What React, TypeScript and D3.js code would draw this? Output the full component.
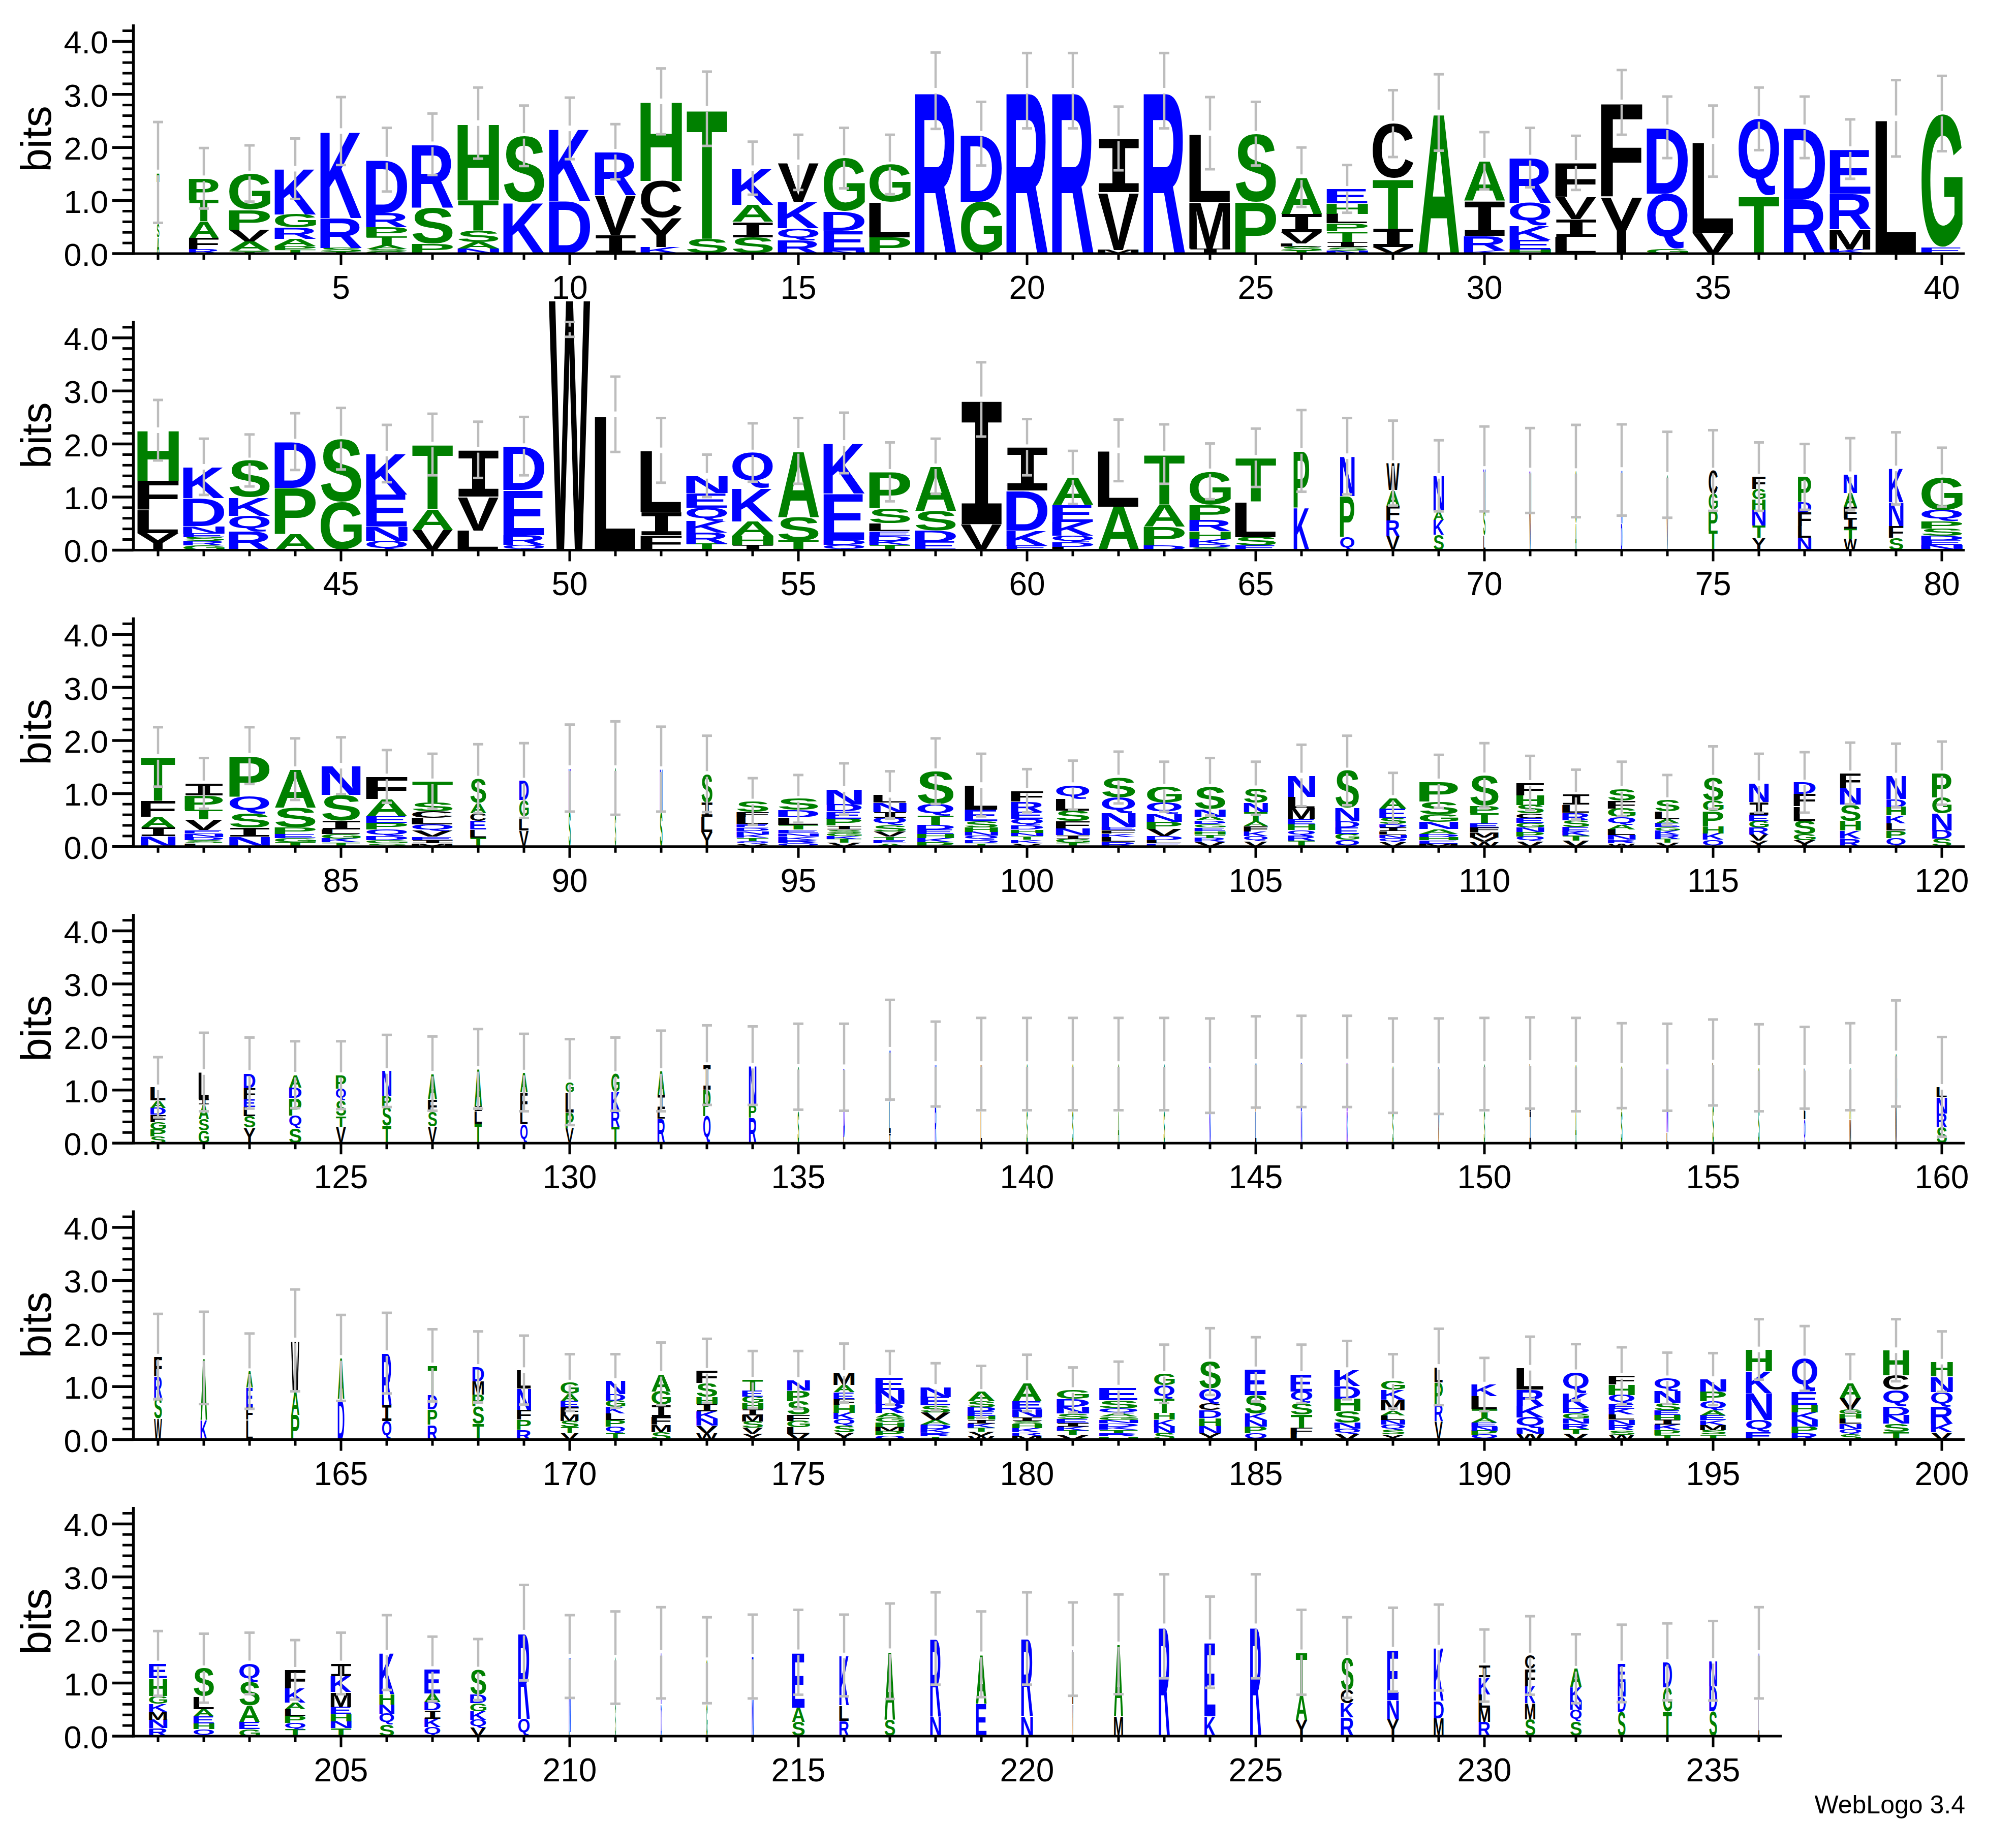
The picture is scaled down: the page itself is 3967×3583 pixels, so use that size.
import React, { useMemo } from 'react';
import * as d3 from 'd3';

const W = 3967;
const H = 3583;
const rowStarts = [1, 41, 81, 121, 161, 201];
const rowCounts = [40, 40, 40, 40, 40, 36];
const yTickValues = [0, 1, 2, 3, 4];
const yTickLabels = ['0.0', '1.0', '2.0', '3.0', '4.0'];
const yMinorValues = [0.2, 0.4, 0.6, 0.8, 1.2, 1.4, 1.6, 1.8, 2.2, 2.4, 2.6, 2.8, 3.2, 3.4, 3.6, 3.8, 4.2];
const yMax = 4.32;

// stacks: letters listed bottom -> top, each with its height in bits
const row1Stacks = [
  'A0.3 S0.25 T0.98', 'R0.09 F0.21 A0.31 T0.41 P0.40', 'T0.03 S0.03 A0.17 V0.22 P0.38 G0.68',
  'T0.07 P0.07 A0.14 R0.21 G0.25 K0.86', 'T0.04 S0.07 R0.56 K1.64', 'G0.04 S0.05 A0.07 T0.16 P0.18 R0.27 D1.0',
  'P0.19 S0.67 R1.2', 'N0.1 A0.12 S0.22 T0.58 H1.44', 'K0.96 S1.26', 'D1.0 K1.36', 'I0.35 V0.75 R0.82',
  'K0.12 Y0.55 C0.7 H1.5', 'S0.28 T2.45', 'S0.31 I0.29 A0.32 K0.69', 'R0.25 Q0.23 K0.5 V0.74',
  'N0.06 E0.37 D0.36 G1.01', 'P0.31 L0.66 G0.71', 'R3.07', 'G0.98 D1.28', 'R3.07', 'R3.07',
  'M0.07 V1.09 I1.01', 'R3.07', 'I0.1 M0.88 L1.29', 'P0.97 S1.29', 'T0.06 S0.07 L0.06 V0.21 I0.35 A0.69',
  'N0.06 S0.06 I0.1 T0.2 P0.15 L0.18 H0.2 E0.27', 'V0.12 I0.35 T0.94 C1.04', 'A2.66',
  'K0.06 R0.28 I0.66 A0.75', 'H0.08 E0.18 K0.26 Q0.44 R0.85', 'L0.32 I0.33 V0.42 F0.64', 'Y1.08 F1.77',
  'G0.09 Q1.04 D1.25', 'V0.39 L1.73', 'T1.09 Q1.45', 'R1.02 D1.36', 'K0.08 M0.38 R0.67 E0.84', 'L2.55',
  'E0.11 G2.53',
];
const row1Widths = [0.06, 0.72, 1, 1, 1, 1, 1, 1, 1, 1, 1, 1, 1, 1, 1, 1, 1, 1, 1, 1, 1, 1, 1, 1, 1, 1, 1, 1, 1, 1, 1, 1, 1, 1, 1, 1, 1, 1, 1, 1];
const row1ErrTop = [2.48, 1.99, 2.04, 2.17, 2.95, 2.37, 2.64, 3.13, 2.79, 2.94, 2.44, 3.49, 3.43, 2.11, 2.24, 2.37, 2.24, 3.79, 2.86, 3.78, 3.78, 2.77, 3.78, 2.95, 2.86, 2.0, 1.67, 3.08, 3.38, 2.29, 2.37, 2.22, 3.46, 2.96, 2.79, 3.13, 2.96, 2.53, 3.27, 3.35];

const row2Stacks = [
  'Y0.32 L0.44 F0.55 H0.95', 'G0.09 R0.08 S0.07 E0.07 N0.14 D0.53 K0.59', 'R0.35 Q0.3 K0.34 S0.7',
  'A0.3 P0.875 D0.87', 'G0.91 S1.19', 'Q0.18 N0.26 E0.61 K0.77', 'V0.38 A0.39 T1.22', 'L0.37 V0.64 I0.88',
  'Q0.1 R0.18 E0.85 D0.83', 'W4.79', 'L2.56', 'F0.28 I0.44 L1.16', 'T0.12 R0.21 K0.22 Q0.25 E0.28 N0.32',
  'I0.09 H0.18 A0.27 K0.62 Q0.68', 'T0.18 S0.44 A1.25', 'Q0.1 D0.1 E0.87 K0.95',
  'T0.1 K0.08 D0.085 E0.09 L0.15 S0.28 P0.69', 'E0.16 D0.21 S0.37 A0.84', 'V0.49 I2.35',
  'E0.08 K0.29 D0.75 I0.82', 'L0.065 D0.08 Q0.125 K0.26 E0.32 A0.52', 'A0.82 L1.06', 'D0.09 P0.35 A0.43 T0.94',
  'S0.055 D0.055 K0.095 H0.15 R0.21 P0.29 G0.63', 'E0.085 S0.16 L0.665 T0.83', 'K0.8 P1.07',
  'Q0.25 P0.77 N0.75', 'V0.26 R0.3 F0.28 A0.29 W0.51', 'S0.29 K0.28 A0.16 N0.67', 'L0.28 S0.48 N0.77',
  'V0.72 N0.78', 'A0.5 G0.99', 'D0.5 N1.01', 'V0.6 G0.82', 'T0.37 P0.39 G0.3 C0.44',
  'Y0.23 T0.23 N0.3 H0.195 G0.2 F0.23', 'N0.235 L0.22 F0.26 D0.195 P0.47', 'W0.21 T0.2 I0.2 F0.21 A0.26 N0.35',
  'S0.23 F0.22 N0.45 K0.64', 'N0.095 E0.095 D0.08 S0.14 P0.14 Q0.2 G0.625',
];
const row2Widths = [1, 1, 1, 1, 1, 1, 1, 1, 1, 1, 1, 1, 1, 1, 1, 1, 1, 1, 1, 1, 1, 1, 1, 1, 1, 0.38, 0.35, 0.32, 0.25, 0.05, 0.04, 0.03, 0.03, 0.03, 0.22, 0.32, 0.32, 0.32, 0.35, 1];
const row2ErrTop = [2.83, 2.10, 2.18, 2.58, 2.68, 2.36, 2.57, 2.42, 2.51, 4.30, 3.27, 2.49, 1.80, 2.39, 2.49, 2.59, 2.03, 2.10, 3.54, 2.47, 1.87, 2.46, 2.37, 2.01, 2.29, 2.64, 2.49, 2.44, 2.07, 2.33, 2.30, 2.36, 2.37, 2.23, 2.26, 2.03, 2.0, 2.11, 2.22, 1.93];

const row3Stacks = [
  'N0.2 I0.165 A0.195 F0.3 T0.83', 'L0.06 S0.06 D0.06 N0.066 E0.066 V0.2 T0.19 P0.26 I0.23',
  'N0.19 I0.17 S0.27 Q0.32 P0.765', 'T0.085 G0.075 E0.075 P0.13 S0.375 A0.72',
  'T0.08 K0.07 G0.09 L0.08 I0.165 S0.49 N0.55', 'S0.066 G0.06 D0.077 Q0.12 P0.125 E0.125 A0.33 F0.42',
  'M0.066 I0.06 E0.06 V0.11 Q0.125 L0.12 C0.12 S0.17 T0.4', 'T0.17 L0.15 E0.165 C0.15 A0.19 S0.456',
  'V0.3 L0.265 G0.31 D0.37', 'S0.67 N0.81', 'S0.6 G0.88', 'S0.64 N0.82', 'Y0.28 L0.28 I0.27 S0.54',
  'V0.05 Q0.05 T0.066 K0.066 N0.066 D0.066 E0.066 L0.12 F0.1 S0.2',
  'Q0.063 R0.063 K0.066 N0.066 E0.066 T0.09 L0.14 D0.136 S0.21',
  'V0.07 T0.07 K0.06 G0.06 S0.066 I0.07 P0.13 E0.14 D0.13 N0.29',
  'A0.066 E0.06 T0.06 V0.1 S0.12 Q0.136 I0.11 N0.18 L0.143',
  'P0.088 K0.077 H0.077 E0.08 D0.085 T0.17 Q0.22 S0.625',
  'T0.066 D0.066 Q0.074 N0.074 H0.08 S0.12 E0.22 L0.46',
  'V0.066 K0.066 T0.066 N0.06 H0.066 D0.074 Q0.125 E0.13 R0.2 F0.2',
  'T0.07 G0.07 I0.074 N0.125 F0.14 S0.2 L0.22 Q0.26', 'R0.09 L0.09 K0.066 F0.066 E0.06 N0.26 Q0.3 S0.37',
  'E0.066 L0.06 D0.074 V0.13 P0.14 N0.15 Q0.2 G0.31',
  'V0.09 R0.074 T0.066 H0.066 E0.066 G0.066 D0.066 A0.074 N0.14 S0.42',
  'V0.1 Q0.1 K0.09 F0.1 A0.09 T0.17 N0.18 S0.27', 'T0.11 R0.1 Q0.1 H0.11 E0.1 M0.21 L0.21 N0.4',
  'Q0.13 G0.11 E0.125 D0.11 N0.25 S0.71', 'V0.09 Q0.074 N0.066 L0.066 I0.066 D0.066 S0.11 E0.18 A0.2',
  'M0.06 E0.06 H0.06 D0.06 A0.09 N0.13 G0.15 S0.24 P0.38',
  'W0.09 V0.085 M0.1 F0.085 E0.074 T0.2 P0.14 S0.57',
  'V0.1 Q0.09 P0.085 N0.09 G0.085 E0.085 C0.09 S0.16 H0.18 F0.235',
  'V0.11 T0.1 K0.08 E0.08 S0.13 R0.14 L0.15 I0.19',
  'W0.066 R0.066 N0.085 L0.107 A0.085 Q0.15 G0.16 F0.15 S0.22',
  'V0.07 T0.07 R0.085 K0.077 G0.066 E0.074 A0.074 L0.15 S0.21',
  'Q0.13 K0.12 H0.14 P0.28 G0.2 S0.43', 'Y0.11 V0.12 R0.13 G0.12 E0.125 I0.24 N0.35',
  'Y0.12 G0.11 S0.25 L0.28 F0.23 D0.22', 'R0.15 K0.15 H0.18 S0.31 N0.32 F0.27',
  'Q0.16 P0.14 L0.14 K0.15 H0.16 D0.15 N0.44', 'S0.15 D0.155 N0.32 G0.3 P0.46',
];
const row3Widths = [0.84, 0.93, 0.98, 1, 0.94, 1, 1, 0.39, 0.23, 0.05, 0.03, 0.06, 0.27, 0.78, 0.98, 0.85, 0.8, 0.89, 0.8, 0.78, 0.82, 0.82, 0.85, 0.75, 0.58, 0.66, 0.58, 0.66, 0.94, 0.7, 0.67, 0.66, 0.67, 0.6, 0.5, 0.47, 0.53, 0.5, 0.47, 0.47];
const row3ErrTop = [2.25, 1.67, 2.25, 2.04, 2.06, 1.82, 1.75, 1.93, 1.95, 2.30, 2.36, 2.26, 2.09, 1.29, 1.35, 1.57, 1.42, 2.04, 1.75, 1.46, 1.62, 1.79, 1.60, 1.67, 1.60, 1.92, 2.09, 1.39, 1.73, 1.95, 1.71, 1.45, 1.60, 1.35, 1.89, 1.75, 1.78, 1.96, 1.94, 1.98];

const row4Stacks = [
  'S0.13 P0.13 G0.136 F0.14 D0.13 A0.136 L0.25', 'G0.24 S0.21 A0.28 I0.1 L0.51',
  'Y0.29 S0.22 L0.17 E0.15 F0.21 D0.28', 'S0.28 Q0.24 P0.33 D0.2 A0.24', 'V0.31 T0.2 S0.29 Q0.23 P0.25',
  'T0.33 S0.36 P0.2 N0.47', 'V0.31 S0.28 F0.24 A0.48', 'T0.37 L0.24 I0.09 A0.7', 'Q0.36 L0.25 F0.35 A0.37',
  'V0.29 P0.29 L0.38 G0.19', 'T0.31 R0.31 K0.34 G0.34', 'R0.46 L0.18 I0.26 A0.46', 'Q0.51 P0.5 I0.46',
  'R0.48 P0.24 N0.74', 'S0.6 G0.84', 'L0.12 D1.31', 'I0.18 L0.61 N0.97', 'R0.7 N0.79', 'L0.6 V0.89',
  'S0.6 G0.89', 'S0.6 G0.89', 'A0.6 G0.89', 'S0.6 G0.89', 'N0.6 D0.86', 'L0.6 V0.93', 'N0.6 D0.94',
  'K0.6 N0.94', 'S0.6 G0.86', 'V0.6 L0.85', 'S0.6 G0.89', 'I0.6 L0.91', 'A0.6 G0.88', 'S0.6 G0.86',
  'L0.2 N1.23', 'S0.7 L0.82', 'S0.7 G0.72', 'Q0.45 L0.97', 'M0.45 A0.99', 'W0.7 G0.99', 'S0.3 R0.26 N0.3 L0.2',
];
const row4Widths = [0.37, 0.25, 0.28, 0.3, 0.25, 0.22, 0.22, 0.18, 0.18, 0.2, 0.2, 0.18, 0.18, 0.18, 0.035, 0.035, 0.04, 0.035, 0.03, 0.03, 0.03, 0.03, 0.03, 0.03, 0.03, 0.03, 0.03, 0.03, 0.03, 0.03, 0.03, 0.03, 0.035, 0.035, 0.035, 0.035, 0.035, 0.035, 0.04, 0.25];
const row4ErrTop = [1.62, 2.08, 1.99, 1.92, 1.92, 2.04, 2.01, 2.15, 2.06, 1.96, 1.99, 2.12, 2.22, 2.2, 2.25, 2.25, 2.70, 2.29, 2.36, 2.36, 2.36, 2.36, 2.36, 2.35, 2.39, 2.40, 2.40, 2.35, 2.35, 2.36, 2.37, 2.36, 2.26, 2.25, 2.33, 2.24, 2.19, 2.26, 2.69, 2.0];

const row5Stacks = [
  'W0.4 S0.39 R0.4 F0.375', 'K0.38 A1.16', 'L0.38 F0.24 E0.36 A0.31', 'P0.47 A0.45 W0.95', 'D0.77 A0.77',
  'Q0.35 I0.31 R0.97', 'R0.28 P0.29 D0.28 T0.55', 'T0.3 S0.33 P0.22 M0.25 D0.27', 'R0.19 P0.19 F0.18 N0.4 L0.35',
  'V0.125 T0.11 S0.12 M0.12 F0.13 E0.12 A0.14 G0.21', 'T0.125 Q0.125 P0.12 L0.125 K0.12 G0.12 D0.12 N0.25',
  'S0.14 M0.14 F0.15 I0.23 G0.25 A0.33', 'W0.125 V0.14 N0.136 K0.13 I0.136 H0.14 S0.26 F0.23',
  'Y0.11 V0.11 S0.12 M0.12 I0.12 H0.11 G0.12 E0.11 T0.21', 'V0.11 L0.12 G0.125 F0.11 S0.26 P0.2 N0.2',
  'Y0.14 S0.125 Q0.12 K0.12 H0.15 F0.11 E0.13 A0.14 M0.22', 'Q0.08 P0.08 M0.08 H0.085 G0.09 A0.09 R0.17 N0.26 E0.23',
  'T0.063 R0.063 K0.074 D0.08 A0.085 V0.15 S0.13 E0.16 N0.19',
  'W0.077 V0.077 T0.074 K0.074 I0.074 H0.074 E0.08 D0.08 S0.11 A0.18',
  'M0.074 R0.066 K0.074 H0.074 S0.066 I0.074 N0.15 E0.15 A0.34',
  'V0.088 T0.08 K0.074 I0.074 E0.074 S0.1 N0.125 D0.15 G0.17',
  'H0.062 R0.062 T0.062 K0.062 D0.062 N0.062 G0.062 A0.062 Q0.09 S0.155 E0.24',
  'S0.13 N0.12 K0.13 H0.12 T0.27 Q0.26 G0.21', 'Y0.125 N0.13 H0.15 D0.15 C0.13 Q0.276 S0.51',
  'Q0.125 P0.12 N0.12 K0.125 S0.35 E0.485', 'L0.11 F0.11 T0.25 S0.22 Q0.22 E0.33',
  'V0.11 Q0.1 N0.11 S0.22 H0.23 D0.24 K0.3', 'Y0.095 S0.085 Q0.1 N0.09 L0.09 A0.09 M0.2 K0.19 G0.16',
  'V0.35 R0.33 P0.4 L0.29', 'Q0.09 P0.08 N0.074 E0.074 A0.09 T0.16 L0.25 K0.22',
  'W0.11 N0.11 Q0.2 K0.22 R0.3 L0.415', 'V0.11 T0.09 R0.1 N0.1 G0.1 D0.1 K0.28 Q0.39',
  'W0.095 S0.08 R0.1 N0.1 L0.1 K0.107 E0.09 Q0.17 H0.195 F0.165',
  'T0.095 P0.09 K0.095 I0.09 H0.095 E0.085 S0.136 N0.235 Q0.235',
  'T0.095 S0.085 M0.095 K0.09 E0.095 A0.095 Q0.17 P0.18 N0.235', 'E0.15 Q0.22 N0.51 K0.41 H0.41',
  'R0.125 P0.125 N0.13 K0.13 H0.14 E0.25 Q0.63', 'S0.1 Q0.1 N0.1 L0.1 H0.085 G0.09 V0.21 A0.28',
  'T0.15 S0.15 N0.16 D0.165 Q0.31 C0.28 H0.47', 'V0.14 K0.16 R0.32 Q0.28 N0.29 H0.28',
];
const row5Widths = [0.19, 0.16, 0.16, 0.2, 0.16, 0.23, 0.23, 0.28, 0.34, 0.44, 0.47, 0.47, 0.51, 0.51, 0.55, 0.51, 0.7, 0.73, 0.67, 0.72, 0.78, 0.94, 0.5, 0.53, 0.53, 0.53, 0.63, 0.58, 0.2, 0.63, 0.66, 0.63, 0.63, 0.63, 0.63, 0.63, 0.63, 0.53, 0.63, 0.53];
const row5ErrTop = [2.37, 2.41, 2.0, 2.83, 2.35, 2.39, 2.08, 2.04, 1.96, 1.61, 1.61, 1.83, 1.9, 1.67, 1.67, 1.81, 1.67, 1.44, 1.39, 1.6, 1.36, 1.47, 1.79, 2.1, 1.93, 1.79, 1.86, 1.61, 2.09, 1.54, 1.94, 1.8, 1.74, 1.64, 1.63, 2.27, 2.14, 1.61, 2.27, 2.04];

const row6Stacks = [
  'R0.15 N0.16 M0.15 K0.15 G0.15 H0.33 E0.28', 'Q0.13 H0.11 E0.13 A0.14 L0.24 S0.53', 'G0.13 E0.14 A0.3 S0.44 Q0.36',
  'T0.13 Q0.12 P0.13 L0.125 A0.125 K0.27 F0.35', 'T0.15 N0.13 H0.14 E0.13 M0.28 K0.3 I0.24',
  'S0.22 Q0.2 N0.175 H0.2 K0.78', 'Q0.17 K0.16 I0.155 D0.16 A0.16 E0.46', 'V0.155 Q0.155 K0.16 G0.155 D0.155 S0.475',
  'Q0.325 R1.625', 'L0.08 N1.42', 'S0.6 G0.88', 'D0.6 N0.97', 'G0.6 S0.83', 'N0.7 E0.8', 'S0.27 A0.27 E1.04',
  'R0.29 L0.29 K0.94', 'S0.31 A1.29', 'N0.37 R1.47', 'E0.617 A0.925', 'N0.38 R1.46', 'V0.6 L1.04', 'M0.37 A1.36',
  'R2.07', 'K0.37 E1.4', 'R2.07', 'Y0.31 A0.48 T0.79', 'R0.35 K0.27 C0.25 S0.61', 'Y0.32 N0.36 E0.95',
  'M0.34 D0.33 K1.0', 'R0.27 M0.27 L0.25 K0.32 I0.22', 'S0.32 M0.3 K0.32 F0.33 C0.25',
  'S0.27 Q0.23 N0.175 K0.25 A0.345', 'S0.46 D0.29 N0.27 E0.35', 'T0.46 G0.46 D0.48', 'S0.47 D0.47 N0.48', 'L0.7 N0.87',
];
const row6Widths = [0.44, 0.5, 0.5, 0.5, 0.5, 0.36, 0.39, 0.39, 0.28, 0.04, 0.02, 0.02, 0.03, 0.04, 0.31, 0.23, 0.26, 0.26, 0.26, 0.28, 0.02, 0.22, 0.27, 0.27, 0.27, 0.28, 0.31, 0.28, 0.24, 0.28, 0.25, 0.28, 0.19, 0.22, 0.19, 0.02];
const row6ErrTop = [1.98, 1.93, 1.95, 1.81, 1.95, 2.28, 1.875, 1.83, 2.85, 2.28, 2.35, 2.43, 2.24, 2.29, 2.38, 2.29, 2.5, 2.71, 2.35, 2.71, 2.52, 2.67, 3.05, 2.63, 3.05, 2.38, 2.24, 2.42, 2.48, 2.01, 2.26, 1.92, 2.1, 2.125, 2.17, 2.43];

// error bar centre overrides (position, bits)
const errCenterOverride: [number, number][] = [[50, 4.16]];

const stacksByRow = [row1Stacks, row2Stacks, row3Stacks, row4Stacks, row5Stacks, row6Stacks];
const widthsByRow = [row1Widths, row2Widths, row3Widths, row4Widths, row5Widths, row6Widths];
const errByRow = [row1ErrTop, row2ErrTop, row3ErrTop, row4ErrTop, row5ErrTop, row6ErrTop];

const BLUE = '#0000ff';
const GREEN = '#008000';
const BLACK = '#000000';
const ERR = '#bdbdbd';
const colorOf = (aa: string) => ('RKDENQ'.includes(aa) ? BLUE : 'SGHTAP'.includes(aa) ? GREEN : BLACK);

const FONT = '"Liberation Sans", Arial, Helvetica, sans-serif';
const SERIF_I_FONT = '"Liberation Mono", "DejaVu Sans Mono", monospace';
const glyphFont = (aa: string) => (aa === 'I' ? SERIF_I_FONT : FONT);
const GLYPH_SIZE = 1000;

// layout
const ROW0 = 499;
const ROW_STEP = 583.4;
const PX_PER_BIT = 104.4;
const X_LEFT = 266;
const X_RIGHT = 3866;
const AXIS_X = 262.5;
const FULL_W = 82;

function parseStack(s: string) {
  return s.trim().split(/\s+/).map((t) => ({ aa: t[0], bits: parseFloat(t.slice(1)) }));
}

export default function App() {
  const metrics = useMemo(() => {
    const c = document.createElement('canvas');
    const ctx = c.getContext('2d') as CanvasRenderingContext2D;
    const m: Record<string, { l: number; r: number; a: number; d: number }> = {};
    for (const ch of 'ACDEFGHIKLMNPQRSTVWY') {
      ctx.font = `bold ${GLYPH_SIZE}px ${glyphFont(ch)}`;
      const t = ctx.measureText(ch);
      m[ch] = {
        l: t.actualBoundingBoxLeft,
        r: t.actualBoundingBoxRight,
        a: t.actualBoundingBoxAscent,
        d: t.actualBoundingBoxDescent,
      };
    }
    return m;
  }, []);

  const rows = rowStarts.map((start, r) => {
    const base = ROW0 + ROW_STEP * r;
    const x = d3.scaleLinear().domain([start - 0.5, start + 39.5]).range([X_LEFT, X_RIGHT]);
    const y = d3.scaleLinear().domain([0, yMax]).range([base, base - yMax * PX_PER_BIT]);
    const n = rowCounts[r];
    const positions = d3.range(start, start + n);
    const els: React.ReactNode[] = [];

    // letters
    positions.forEach((p, i) => {
      const stack = parseStack(stacksByRow[r][i]);
      const w = FULL_W * widthsByRow[r][i];
      const cx = x(p);
      let acc = 0;
      stack.forEach((s, k) => {
        const y0 = y(acc);
        const y1 = y(acc + s.bits);
        acc += s.bits;
        const mm = metrics[s.aa];
        const gw = mm.l + mm.r;
        const gh = mm.a + mm.d;
        const bh = y0 - y1;
        if (bh <= 0 || gw <= 0 || gh <= 0) return;
        const sx = w / gw;
        const sy = bh / gh;
        els.push(
          <text
            key={`l${p}-${k}`}
            transform={`translate(${cx - w / 2},${y1}) scale(${sx},${sy}) translate(${mm.l},${mm.a})`}
            fontFamily={glyphFont(s.aa)}
            fontWeight="bold"
            fontSize={GLYPH_SIZE}
            fill={colorOf(s.aa)}
          >
            {s.aa}
          </text>
        );
      });
    });

    // error bars
    positions.forEach((p, i) => {
      const stack = parseStack(stacksByRow[r][i]);
      const ov = errCenterOverride.find((o) => o[0] === p);
      const c = ov ? ov[1] : d3.sum(stack, (s) => s.bits);
      const top = errByRow[r][i];
      const bot = Math.max(0, 2 * c - top);
      const cx = x(p);
      const yc = y(c);
      const yt = y(top);
      const yb = y(bot);
      const gap = 5.5;
      els.push(
        <g key={`e${p}`} stroke={ERR} fill="none">
          <line x1={cx} x2={cx} y1={yt} y2={Math.max(yt, yc - gap)} strokeWidth={4.5} />
          <line x1={cx} x2={cx} y1={Math.min(yb, yc + gap)} y2={yb} strokeWidth={4.5} />
          <line x1={cx - 10} x2={cx + 10} y1={yt} y2={yt} strokeWidth={5} />
          <line x1={cx - 10} x2={cx + 10} y1={yb} y2={yb} strokeWidth={5} />
        </g>
      );
    });

    // x axis
    const xEnd = x(start + n - 0.5);
    els.push(<line key="xa" x1={AXIS_X} x2={xEnd} y1={base} y2={base} stroke={BLACK} strokeWidth={5} />);
    positions.forEach((p) => {
      const major = p % 5 === 0;
      els.push(
        <line key={`xt${p}`} x1={x(p)} x2={x(p)} y1={base} y2={base + (major ? 22 : 12)} stroke={BLACK} strokeWidth={5} />
      );
      if (major) {
        els.push(
          <text key={`xl${p}`} x={x(p)} y={base + 89} textAnchor="middle" fontFamily={FONT} fontSize={64} fill={BLACK}>
            {p}
          </text>
        );
      }
    });

    // y axis
    els.push(<line key="ya" x1={AXIS_X} x2={AXIS_X} y1={y(yMax)} y2={base + 2.5} stroke={BLACK} strokeWidth={5.4} />);
    yTickValues.forEach((v, k) => {
      els.push(<line key={`yt${v}`} x1={221} x2={AXIS_X} y1={y(v)} y2={y(v)} stroke={BLACK} strokeWidth={5.5} />);
      els.push(
        <text key={`yl${v}`} x={213} y={y(v) + 24} textAnchor="end" fontFamily={FONT} fontSize={63} fill={BLACK}>
          {yTickLabels[k]}
        </text>
      );
    });
    yMinorValues.forEach((v) => {
      els.push(<line key={`ym${v}`} x1={241} x2={AXIS_X} y1={y(v)} y2={y(v)} stroke={BLACK} strokeWidth={5} />);
    });
    const midY = y(yMax / 2);
    els.push(
      <text key="bits" transform={`translate(100,${midY}) rotate(-90)`} textAnchor="middle" fontFamily={FONT} fontSize={84} fill={BLACK}>
        bits
      </text>
    );

    return <g key={`row${r}`}>{els}</g>;
  });

  return (
    <svg
      width={W}
      height={H}
      viewBox={`0 0 ${W} ${H}`}
      style={{ position: 'absolute', left: 0, top: 0, background: '#ffffff' }}
    >
      <rect x={0} y={0} width={W} height={H} fill="#ffffff" />
      {rows}
      <text x={3867} y={3568} textAnchor="end" fontFamily={FONT} fontSize={50} fill={BLACK}>
        WebLogo 3.4
      </text>
    </svg>
  );
}
